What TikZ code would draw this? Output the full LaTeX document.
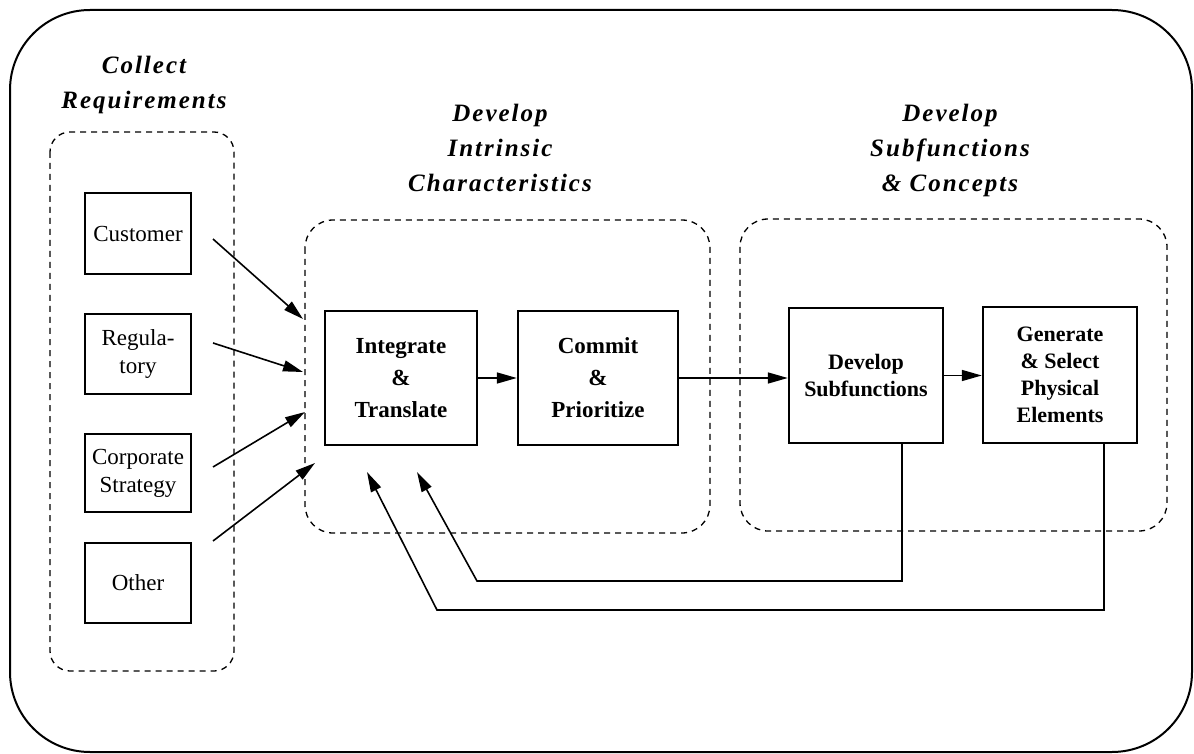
\documentclass[tikz,border=0pt]{standalone}
\usepackage{fontspec}
\setmainfont{Liberation Serif}
\newfontfamily\headfont{Liberation Serif}[LetterSpace=8]
\usetikzlibrary{arrows.meta}
\begin{document}
\begin{tikzpicture}[x=0.5pt,y=-0.5pt,
  frame/.style={draw, line width=1pt, rounded corners=40pt},
  group/.style={draw, dash pattern=on 3pt off 2.5pt, line width=0.65pt, rounded corners=12pt},
  source/.style={draw, line width=1.2pt, minimum width=53pt, inner sep=0pt, align=center,
    font=\fontsize{11.5pt}{14pt}\selectfont},
  stepbox/.style={draw, line width=1.2pt, inner sep=0pt, align=center,
    font=\bfseries\fontsize{11.5pt}{16pt}\selectfont},
  conceptbox/.style={draw, line width=1.2pt, inner sep=0pt, align=center,
    font=\bfseries\fontsize{11pt}{13.5pt}\selectfont},
  heading/.style={align=center, inner sep=0pt,
    font=\headfont\bfseries\itshape\fontsize{12.5pt}{17.5pt}\selectfont},
  arr/.style={-{Triangle[length=10pt,width=5.5pt]}, line width=0.8pt},
  ]
\useasboundingbox (0,0) rectangle (1194,754);

% outer frame
\draw[frame] (10,10) rectangle (1192,752);

% dashed groups
\draw[group, rounded corners=10pt] (50,132) rectangle (234,671);
\draw[group, rounded corners=14pt] (305,220) rectangle (710,533);
\draw[group, rounded corners=14pt] (740,219) rectangle (1167,531);

% headings
\node[heading] (hcollect) at (144,85) {Collect\\Requirements};
\node[heading] (hintrinsic) at (500,148) {Develop\\Intrinsic\\Characteristics};
\node[heading] (hconcepts) at (950,150) {Develop\\Subfunctions\\\& Concepts};

% requirement sources
\node[source, minimum height=40.5pt] (cust) at (138,233.5) {Customer};
\node[source, minimum height=40pt] (reg) at (138,354) {Regula-\\tory};
\node[source, minimum height=39pt] (corp) at (138,473) {Corporate\\Strategy};
\node[source, minimum height=40pt] (oth) at (138,583) {Other};

% process steps
\node[stepbox, minimum width=76pt, minimum height=67pt] (integ) at (401,378) {Integrate\\\&\\Translate};
\node[stepbox, minimum width=80pt, minimum height=67pt] (commit) at (598,378) {Commit\\\&\\Prioritize};
\node[conceptbox, minimum width=77pt, minimum height=67.5pt] (devsub) at (866,375.5) {Develop\\Subfunctions};
\node[conceptbox, minimum width=77pt, minimum height=68pt] (gensel) at (1060,375) {Generate\\\& Select\\Physical\\Elements};

% input arrow ends
\coordinate (custout) at (213,239);  \coordinate (custin) at (303,319);
\coordinate (regout)  at (213,343);  \coordinate (regin)  at (303,372);
\coordinate (corpout) at (213,467);  \coordinate (corpin) at (305,412);
\coordinate (othout)  at (213,541);  \coordinate (othin)  at (315,463);

\draw[arr] (custout) -- (custin);
\draw[arr] (regout) -- (regin);
\draw[arr] (corpout) -- (corpin);
\draw[arr] (othout) -- (othin);

% forward flow
\draw[arr] (integ.east) -- (commit.west);
\draw[arr] (commit.east) -- (commit.east -| devsub.west);
\draw[arr] (devsub.east) -- (devsub.east -| gensel.west);

% feedback loops
\coordinate (fbinner) at (477,581);  \coordinate (fbinnertip) at (417,472);
\coordinate (fbouter) at (437,610);  \coordinate (fboutertip) at (367,472);
\draw[arr] ([xshift=18pt]devsub.south) |- (fbinner) -- (fbinnertip);
\draw[arr] ([xshift=22pt]gensel.south) |- (fbouter) -- (fboutertip);
\end{tikzpicture}
\end{document}
